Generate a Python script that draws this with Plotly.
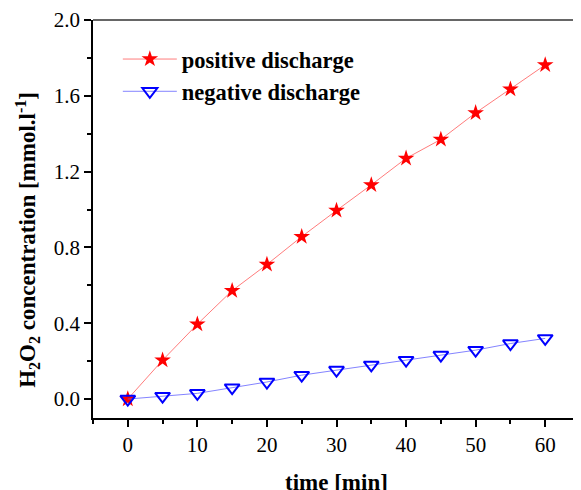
import plotly.graph_objects as go

time_min = [0, 5, 10, 15, 20, 25, 30, 35, 40, 45, 50, 55, 60]
positive = [0.0, 0.205, 0.395, 0.572, 0.71, 0.857, 0.995, 1.13, 1.27, 1.37, 1.51, 1.635, 1.763]
negative = [0.0, 0.015, 0.03, 0.06, 0.09, 0.126, 0.153, 0.18, 0.205, 0.232, 0.258, 0.293, 0.32]

x_ticks = [0, 10, 20, 30, 40, 50, 60]
y_ticks = [0.0, 0.4, 0.8, 1.2, 1.6, 2.0]
y_labels = ["0.0", "0.4", "0.8", "1.2", "1.6", "2.0"]

serif = "Liberation Serif, Times New Roman, serif"

fig = go.Figure()
fig.add_trace(go.Scatter(
    x=time_min, y=positive, mode="lines+markers", name="positive discharge",
    line=dict(color="rgba(255,80,80,0.75)", width=1),
    marker=dict(symbol="star", size=12.5, color="#ff0000", line=dict(width=0)),
))
fig.add_trace(go.Scatter(
    x=time_min, y=negative, mode="lines+markers", name="negative discharge",
    line=dict(color="rgba(90,90,255,0.75)", width=1),
    marker=dict(symbol="triangle-down-open", size=13, color="#0000ff", line=dict(width=2, color="#0000ff")),
))

# page body has an 8px default margin, so the figure is sized to fit 581x490 minus it
fig.update_layout(
    width=573, height=482,
    margin=dict(l=85, r=1, t=12, b=72, autoexpand=False),
    plot_bgcolor="white", paper_bgcolor="white",
    font=dict(family=serif, color="black"),
    showlegend=True,
    legend=dict(x=0.051, y=0.955, xanchor="left", yanchor="top",
                bgcolor="rgba(0,0,0,0)", font=dict(family=serif, size=22.5, color="black", weight="bold"),
                tracegroupgap=0, itemwidth=54),
    shapes=[
        dict(type="line", xref="paper", yref="paper", x0=0, x1=1, y0=1, y1=1,
             line=dict(color="#333333", width=1.5)),
        dict(type="line", xref="paper", yref="paper", x0=1, x1=1, y0=0, y1=1,
             line=dict(color="#bbbbbb", width=1.5)),
    ],
    annotations=[
        dict(text="<b>H<sub>2</sub>O<sub>2</sub> concentration [mmol.l<sup>-1</sup>]</b>",
             xref="paper", yref="paper", x=-0.136, y=0.447, xanchor="center", yanchor="middle",
             textangle=-90, showarrow=False, font=dict(family=serif, size=23, color="black")),
        dict(text="<b>time [min]</b>",
             xref="paper", yref="paper", x=0.5, y=-0.163, xanchor="center", yanchor="middle",
             showarrow=False, font=dict(family=serif, size=23, color="black")),
    ],
)

fig.update_xaxes(
    range=[-5, 65], tickvals=x_ticks, ticks="outside", ticklen=7, tickwidth=1.5,
    tickcolor="black", showline=True, linecolor="black", linewidth=1.5,
    showgrid=False, zeroline=False, automargin=False,
    tickfont=dict(family=serif, size=21, color="black"),
    minor=dict(dtick=5, tick0=0, ticks="outside", ticklen=4, tickwidth=1.5, tickcolor="black", showgrid=False),
)
fig.update_yaxes(
    range=[-0.1, 2.0], tickvals=y_ticks, ticktext=y_labels, ticks="outside", ticklen=7, tickwidth=1.5,
    tickcolor="black", showline=True, linecolor="black", linewidth=1.5,
    showgrid=False, zeroline=False, automargin=False,
    tickfont=dict(family=serif, size=21, color="black"),
    minor=dict(dtick=0.2, tick0=0, ticks="outside", ticklen=4, tickwidth=1.5, tickcolor="black", showgrid=False),
)

fig.write_html("out.html")
